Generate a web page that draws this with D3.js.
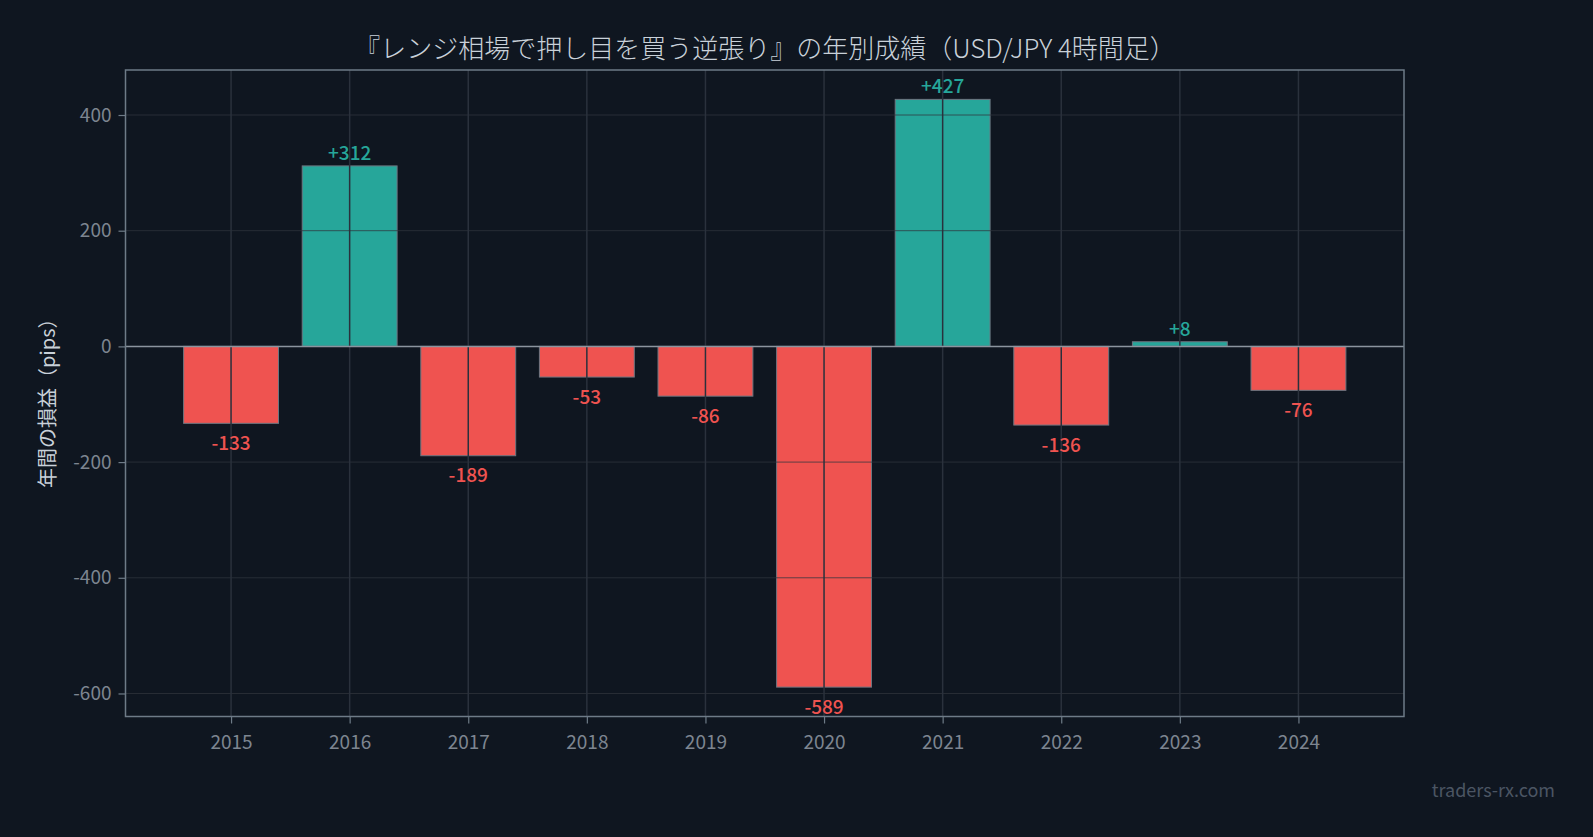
<!DOCTYPE html>
<html><head>
<meta charset="utf-8">
<title>年別成績</title>
<script src="https://d3js.org/d3.v7.min.js"></script>
<style>
  body { margin: 0; background: #0f1620; }
  text { font-family: "Noto Sans CJK JP", "Noto Sans", sans-serif; }
</style>
</head>
<body>
<svg id="chart" width="1593" height="837"></svg>
<script>
  // values
  const years = ["2015", "2016", "2017", "2018", "2019", "2020", "2021", "2022", "2023", "2024"];
  const pips = [-133, 312, -189, -53, -86, -589, 427, -136, 8, -76];
  const yTicks = [-600, -400, -200, 0, 200, 400];

  const svg = d3.select("#chart");
  const width = +svg.attr("width");
  const height = +svg.attr("height");

  svg.append("rect").attr("width", width).attr("height", height).attr("fill", "#0f1620");

  const plotL = 125.5, plotR = 1404, plotT = 70, plotB = 716.5;

  // matplotlib style 5% margins
  const yMin = d3.min(pips), yMax = d3.max(pips);
  const pad = (yMax - yMin) * 0.05;
  const y = d3.scaleLinear().domain([yMin - pad, yMax + pad]).range([plotB, plotT]);
  const x = d3.scaleLinear().domain([-0.4 - 0.49, years.length - 0.6 + 0.49]).range([plotL, plotR]);
  const barW = x(0.8) - x(0);

  const up = "#26a69a", down = "#ef5350";

  // bars
  svg.append("g").selectAll("rect").data(pips).join("rect")
    .attr("x", (d, i) => x(i - 0.4))
    .attr("y", d => y(Math.max(0, d)))
    .attr("width", barW)
    .attr("height", d => Math.abs(y(d) - y(0)))
    .attr("fill", d => d >= 0 ? up : down)
    .attr("stroke", "#6e7681")
    .attr("stroke-width", 1);

  // grid on top of the bars
  const grid = svg.append("g");
  grid.selectAll("line.h").data(yTicks).join("line")
    .attr("class", "h")
    .attr("x1", plotL).attr("x2", plotR)
    .attr("y1", d => y(d)).attr("y2", d => y(d))
    .attr("stroke", "#30363d").attr("stroke-opacity", 0.75).attr("stroke-width", 1);
  grid.selectAll("line.v").data(years).join("line")
    .attr("class", "v")
    .attr("x1", (d, i) => x(i)).attr("x2", (d, i) => x(i))
    .attr("y1", plotT).attr("y2", plotB)
    .attr("stroke", "#2a313c").attr("stroke-width", 1.5);

  // zero line
  svg.append("line")
    .attr("x1", plotL).attr("x2", plotR)
    .attr("y1", y(0)).attr("y2", y(0))
    .attr("stroke", "#8b949e").attr("stroke-width", 1.5);

  // frame
  svg.append("rect")
    .attr("x", plotL).attr("y", plotT)
    .attr("width", plotR - plotL).attr("height", plotB - plotT)
    .attr("fill", "none").attr("stroke", "#6e7b87").attr("stroke-width", 1.5);

  // axes
  const yAxis = svg.append("g").attr("transform", `translate(${plotL},0)`)
    .call(d3.axisLeft(y).tickValues(yTicks).tickSize(7).tickPadding(7).tickFormat(d3.format("d")));
  const xAxis = svg.append("g").attr("transform", `translate(0,${plotB})`)
    .call(d3.axisBottom(x).tickValues(d3.range(years.length)).tickSize(7).tickPadding(12).tickFormat(i => years[i]));
  [yAxis, xAxis].forEach(a => {
    a.select(".domain").remove();
    a.selectAll(".tick line").attr("stroke", "#6e7b87").attr("stroke-width", 1.2);
    a.selectAll(".tick text").attr("fill", "#7d8590").style("font-size", "19px");
  });
  yAxis.selectAll(".tick text").text(d => d < 0 ? "-" + Math.abs(d) : d);

  // value labels
  svg.append("g").selectAll("text").data(pips).join("text")
    .attr("x", (d, i) => x(i))
    .attr("y", d => d >= 0 ? y(d) - 6 : y(d) + 11)
    .attr("dy", d => d >= 0 ? "0" : "0.82em")
    .attr("text-anchor", "middle")
    .attr("fill", d => d >= 0 ? up : down)
    .style("font-size", "19px")
    .style("font-weight", 500)
    .text(d => d >= 0 ? "+" + d : "-" + Math.abs(d));

  // title
  svg.append("text")
    .attr("x", 765).attr("y", 58)
    .attr("text-anchor", "middle")
    .attr("fill", "#c9d1d9")
    .style("font-size", "26px")
    .style("font-weight", 300)
    .text("『レンジ相場で押し目を買う逆張り』の年別成績（USD/JPY 4時間足）");

  // y label
  svg.append("text")
    .attr("transform", `translate(55,${(plotT + plotB) / 2 + 5}) rotate(-90)`)
    .attr("text-anchor", "middle")
    .attr("fill", "#c9d1d9")
    .style("font-size", "20px")
    .text("年間の損益（pips）");

  // watermark
  svg.append("text")
    .attr("x", 1555).attr("y", 797)
    .attr("text-anchor", "end")
    .attr("fill", "#4b5563")
    .style("font-size", "18px")
    .text("traders-rx.com");
</script>
</body>
</html>
